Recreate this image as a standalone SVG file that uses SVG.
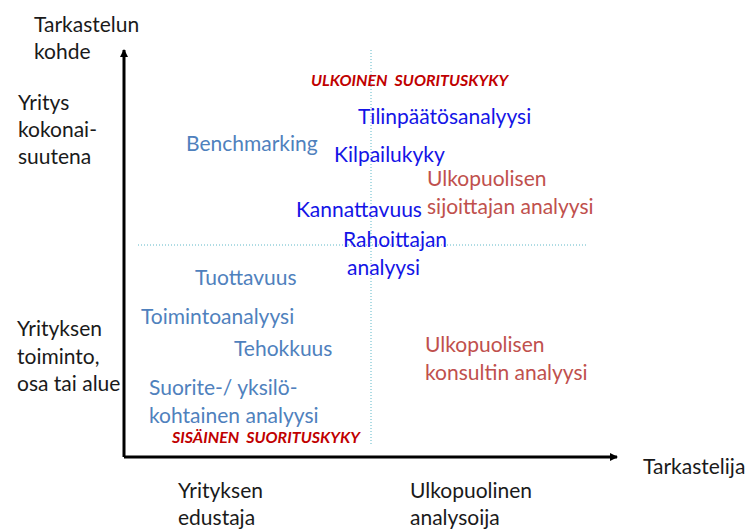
<svg xmlns="http://www.w3.org/2000/svg" width="746" height="532" viewBox="0 0 746 532">
  <style>
    text { font-family: Lato, "Open Sans", "Liberation Sans", sans-serif; font-size: 21px; }
    .axis-label { fill: #1a1a1a; }
    .internal { fill: #4f81bd; }
    .strong { fill: #1414e6; }
    .outside { fill: #c0504d; }
    .perf { fill: #c00000; font-size: 16px; font-weight: bold; font-style: italic; white-space: pre; }
    .axis { stroke: #000; stroke-width: 3; fill: none; }
    .grid { stroke: #5fb8c8; stroke-width: 1; stroke-dasharray: 1 2; fill: none; }
  </style>
  <defs>
    <marker id="arrow" markerWidth="10" markerHeight="10" refX="7" refY="5" orient="auto" markerUnits="userSpaceOnUse">
      <path d="M0,1 L8,5 L0,9 Z" fill="#000"/>
    </marker>
  </defs>

  <rect width="746" height="532" fill="#fff"/>

  <!-- quadrant guides -->
  <g id="guides">
    <line class="grid" x1="371" y1="50" x2="371" y2="446"/>
    <line class="grid" x1="138" y1="245" x2="588" y2="245"/>
  </g>

  <!-- axes -->
  <g id="connectors">
    <path class="axis" d="M124,457 L124,50" marker-end="url(#arrow)"/>
    <path class="axis" d="M124,457 L617,457" marker-end="url(#arrow)"/>
  </g>

  <!-- axis titles -->
  <g id="y-axis-title" class="axis-label">
    <text x="34" y="32">Tarkastelun</text>
    <text x="34" y="59">kohde</text>
  </g>
  <g id="y-top" class="axis-label">
    <text x="18" y="110">Yritys</text>
    <text x="18" y="137">kokonai-</text>
    <text x="18" y="164">suutena</text>
  </g>
  <g id="y-bottom" class="axis-label">
    <text x="17" y="336">Yrityksen</text>
    <text x="17" y="364">toiminto,</text>
    <text x="17" y="391">osa tai alue</text>
  </g>
  <g id="x-axis-title" class="axis-label">
    <text x="643" y="474">Tarkastelija</text>
  </g>
  <g id="x-left" class="axis-label">
    <text x="178" y="498">Yrityksen</text>
    <text x="178" y="525">edustaja</text>
  </g>
  <g id="x-right" class="axis-label">
    <text x="410" y="498">Ulkopuolinen</text>
    <text x="410" y="525">analysoija</text>
  </g>

  <!-- performance areas -->
  <g id="ulkoinen"><text class="perf" x="311" y="86" xml:space="preserve">ULKOINEN  SUORITUSKYKY</text></g>
  <g id="sisainen"><text class="perf" x="172" y="443" xml:space="preserve">SISÄINEN  SUORITUSKYKY</text></g>

  <!-- analysis items -->
  <g id="benchmarking"><text class="internal" x="186" y="151">Benchmarking</text></g>
  <g id="tilinpaatos"><text class="strong" x="358" y="124">Tilinpäätösanalyysi</text></g>
  <g id="kilpailukyky"><text class="strong" x="334" y="162">Kilpailukyky</text></g>
  <g id="sijoittaja" class="outside">
    <text x="427" y="186">Ulkopuolisen</text>
    <text x="427" y="214">sijoittajan analyysi</text>
  </g>
  <g id="kannattavuus"><text class="strong" x="296" y="217">Kannattavuus</text></g>
  <g id="rahoittaja" class="strong">
    <text x="343" y="247">Rahoittajan</text>
    <text x="347" y="275">analyysi</text>
  </g>
  <g id="tuottavuus"><text class="internal" x="195" y="285">Tuottavuus</text></g>
  <g id="toimintoanalyysi"><text class="internal" x="141" y="324">Toimintoanalyysi</text></g>
  <g id="tehokkuus"><text class="internal" x="234" y="356">Tehokkuus</text></g>
  <g id="suorite" class="internal">
    <text x="149" y="395">Suorite-/ yksilö-</text>
    <text x="149" y="423">kohtainen analyysi</text>
  </g>
  <g id="konsultti" class="outside">
    <text x="425" y="352">Ulkopuolisen</text>
    <text x="425" y="380">konsultin analyysi</text>
  </g>
</svg>
